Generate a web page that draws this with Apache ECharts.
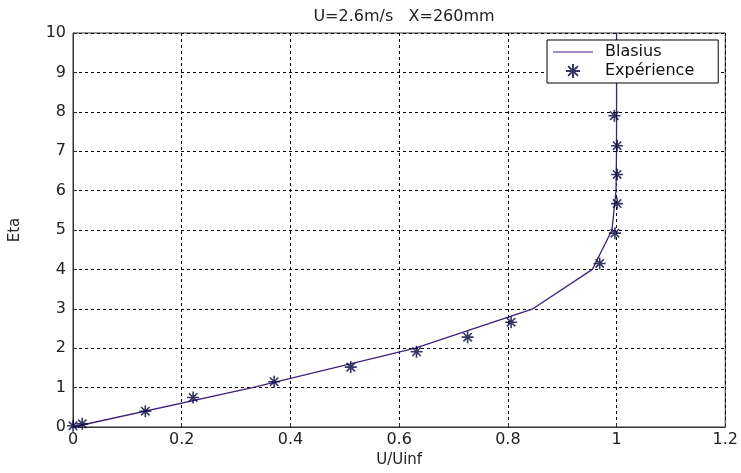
<!DOCTYPE html>
<html>
<head>
<meta charset="utf-8">
<script src="https://cdn.jsdelivr.net/npm/echarts@6/dist/echarts.min.js"></script>
<style>
html,body{margin:0;padding:0;background:#fff;}
#c{width:741px;height:473px;}
</style>
</head>
<body>
<div id="c"></div>
<script>
var titleText = 'U=2.6m/s   X=260mm';
var xName = 'U/Uinf';
var yName = 'Eta';
var xTickLabels = ['0', '0.2', '0.4', '0.6', '0.8', '1', '1.2'];
var yTickLabels = ['0','1','2','3','4','5','6','7','8','9','10'];

var blasiusU   = [0, 0.3298, 0.6298, 0.8461, 0.9555, 0.9916, 0.9990, 0.9999, 1.0, 1.0, 1.0];
var blasiusEta = [0, 1, 2, 3, 4, 5, 6, 7, 8, 9, 10];

var expU   = [0.0, 0.017, 0.133, 0.221, 0.370, 0.511, 0.632, 0.726, 0.806, 0.969, 0.997, 1.001, 1.001, 1.001, 0.996];
var expEta = [0.03, 0.08, 0.40, 0.75, 1.15, 1.52, 1.91, 2.28, 2.66, 4.15, 4.92, 5.67, 6.41, 7.14, 7.90];

function pairs(a, b) { return a.map(function (v, i) { return [v, b[i]]; }); }

var FONT = 'DejaVu Sans';
var star = 'path://M0,-10L0,10M-10,0L10,0M-7,-7L7,7M-7,7L7,-7';

var chart = echarts.init(document.getElementById('c'), null, {renderer: 'canvas'});
chart.setOption({
  animation: false,
  backgroundColor: '#fff',
  title: {
    text: titleText, left: 399, top: 4, textAlign: 'center',
    textStyle: {fontFamily: FONT, fontSize: 16, fontWeight: 'normal', color: '#222'}
  },
  legend: {
    orient: 'vertical', left: 547, top: 40,
    padding: [4, 24, 4, 6], itemGap: 3, itemWidth: 40, itemHeight: 14,
    borderColor: '#000', borderWidth: 1, backgroundColor: '#fff',
    textStyle: {fontFamily: FONT, fontSize: 16, color: '#111', padding: [0, 0, 0, 7]},
    data: [
      {name: 'Blasius', icon: 'path://M0,0L40,0L40,1L0,1Z'},
      {name: 'Expérience'}
    ]
  },
  grid: {left: 70, right: 12, top: 33, bottom: 43, show: true, borderColor: '#333', borderWidth: 1},
  xAxis: {
    type: 'value', min: 0, max: 1.2, interval: 0.2,
    name: xName, nameLocation: 'middle', nameGap: 26,
    nameTextStyle: {fontFamily: FONT, fontSize: 15, color: '#222'},
    axisLine: {onZero: false, lineStyle: {color: '#333'}},
    axisTick: {inside: true, length: 4, lineStyle: {color: '#333'}},
    axisLabel: {fontFamily: FONT, fontSize: 16, color: '#222', margin: 5,
      formatter: function (v) { return xTickLabels[Math.round(v / 0.2)]; }},
    splitLine: {show: true, lineStyle: {color: '#000', type: [3, 3], width: 1}}
  },
  yAxis: {
    type: 'value', min: 0, max: 10, interval: 1,
    name: yName, nameLocation: 'middle', nameGap: 50,
    nameTextStyle: {fontFamily: FONT, fontSize: 15, color: '#222'},
    axisLine: {onZero: false, lineStyle: {color: '#333'}},
    axisTick: {inside: true, length: 4, lineStyle: {color: '#333'}},
    axisLabel: {fontFamily: FONT, fontSize: 16, color: '#222', margin: 7,
      formatter: function (v) { return yTickLabels[Math.round(v)]; }},
    splitLine: {show: true, lineStyle: {color: '#000', type: [3, 3], width: 1}}
  },
  series: [
    {
      name: 'Blasius', type: 'line', data: pairs(blasiusU, blasiusEta),
      showSymbol: false, symbol: 'none', z: 3,
      lineStyle: {color: '#40207a', width: 1.3},
      itemStyle: {color: '#40207a'}
    },
    {
      name: 'Expérience', type: 'scatter', data: pairs(expU, expEta),
      symbol: star, symbolSize: 12, z: 4,
      itemStyle: {color: '#0a0a60', borderColor: '#050540', borderWidth: 1.6}
    }
  ]
});
</script>
</body>
</html>
